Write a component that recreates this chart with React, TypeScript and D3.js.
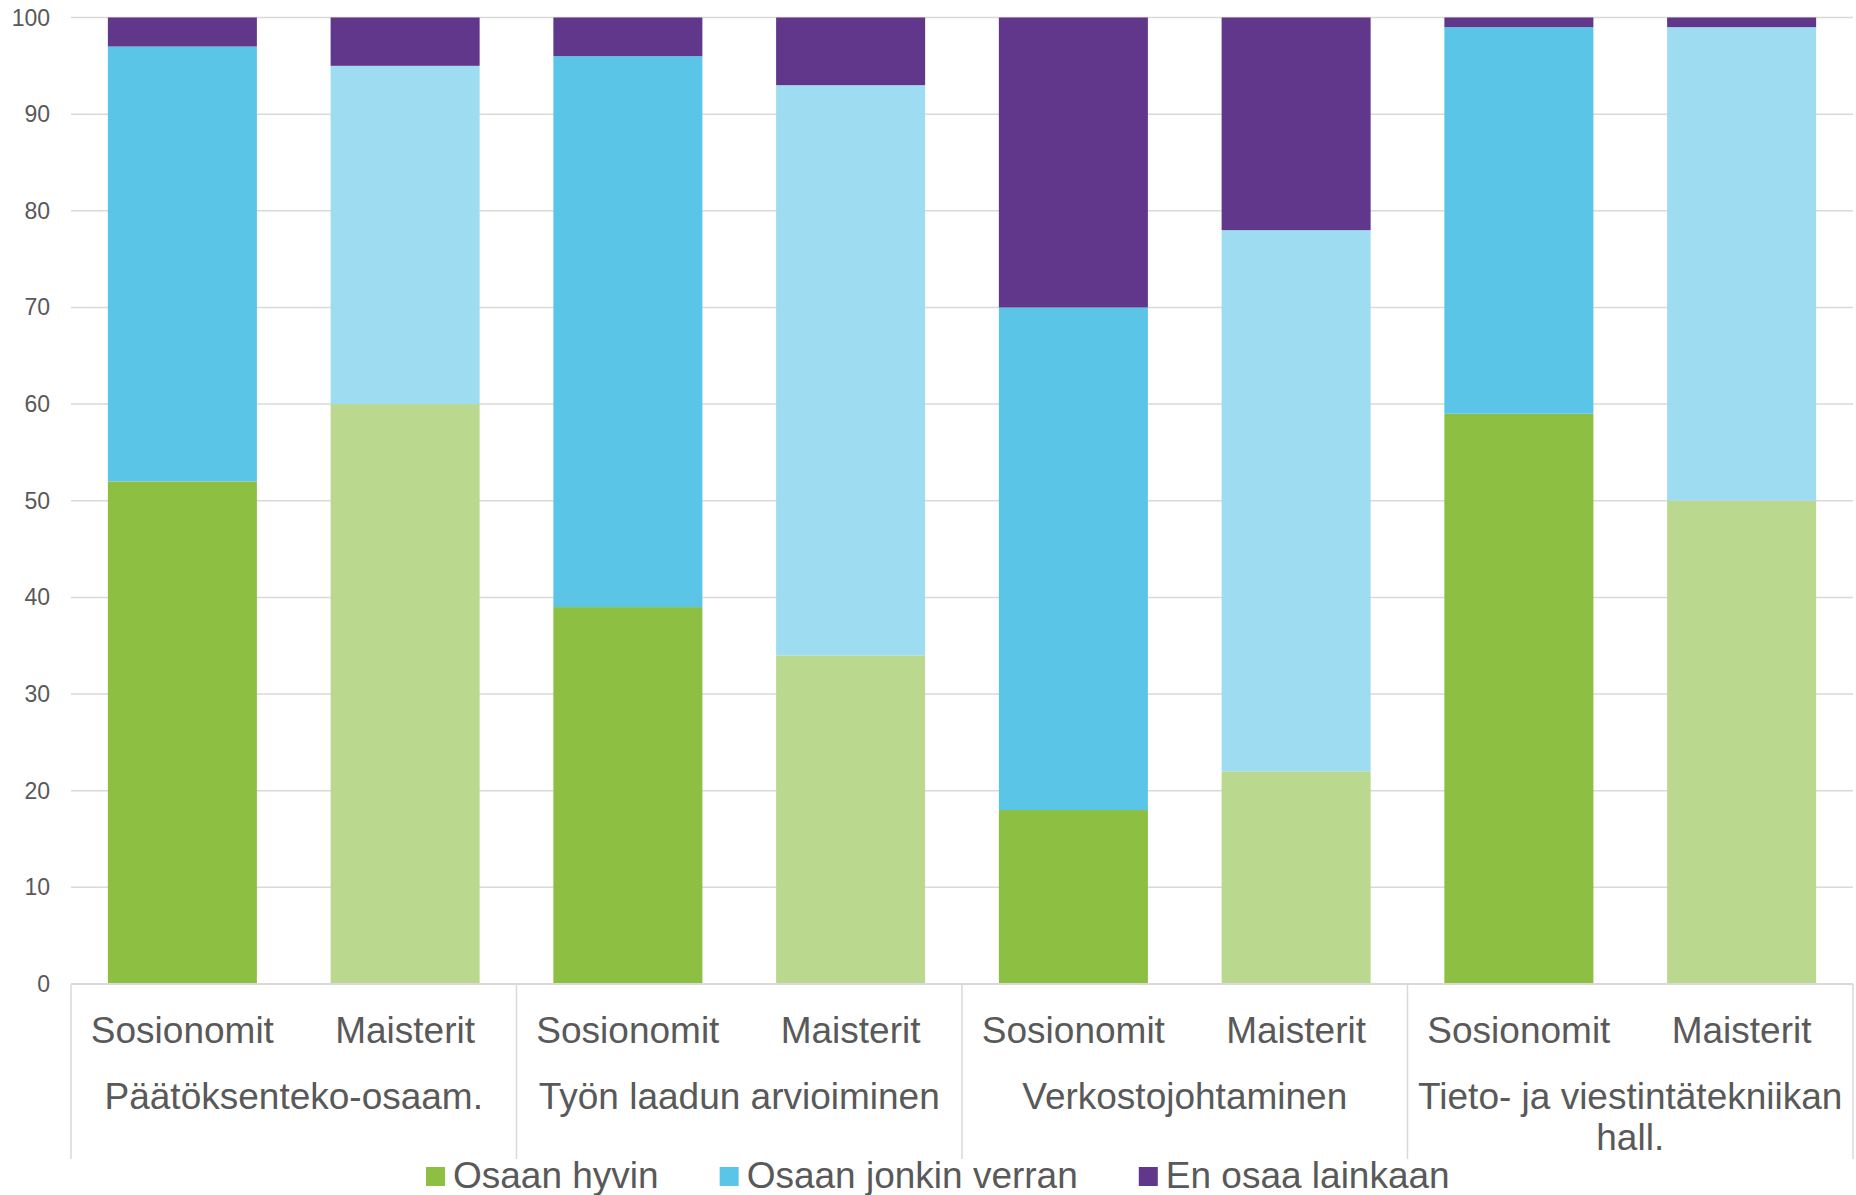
import React from "react";
import * as d3 from "d3";

const groups = [
  "Päätöksenteko-osaam.",
  "Työn laadun arvioiminen",
  "Verkostojohtaminen",
  "Tieto- ja viestintätekniikan hall.",
];
const groupLines = [
  ["Päätöksenteko-osaam."],
  ["Työn laadun arvioiminen"],
  ["Verkostojohtaminen"],
  ["Tieto- ja viestintätekniikan", "hall."],
];
const subgroups = ["Sosionomit", "Maisterit"];
const seriesNames = ["Osaan hyvin", "Osaan jonkin verran", "En osaa lainkaan"];

const osaanHyvin = [52, 60, 39, 34, 18, 22, 59, 50];
const osaanJonkin = [45, 35, 57, 59, 52, 56, 40, 49];
const enOsaa = [3, 5, 4, 7, 30, 22, 1, 1];

const yTicks = [0, 10, 20, 30, 40, 50, 60, 70, 80, 90, 100];

const darkColors = ["#8CBF42", "#5BC5E8", "#61378C"];
const lightColors = ["#BBD88F", "#9EDDF1", "#61378C"];

const W = 1856;
const H = 1195;
const left = 71;
const right = 1853;
const top = 17.5;
const bottom = 984;
const FONT = "'Liberation Sans', Arial, sans-serif";
const TEXT = "#595959";
const GRID = "#D9D9D9";

function measure(text: string, size: number) {
  const c = document.createElement("canvas").getContext("2d");
  if (!c) return text.length * size * 0.5;
  c.font = `${size}px 'Liberation Sans', Arial, sans-serif`;
  return c.measureText(text).width;
}

export default function App() {
  const rows = groups.flatMap((g, gi) =>
    subgroups.map((s, si) => {
      const i = gi * 2 + si;
      return {
        group: g,
        sub: s,
        a: osaanHyvin[i],
        b: osaanJonkin[i],
        c: enOsaa[i],
      };
    })
  );
  const stack = d3.stack<any>().keys(["a", "b", "c"]);
  const stacked = stack(rows);

  const x0 = d3.scaleBand<string>().domain(groups).range([left, right]).padding(0);
  const x1 = d3
    .scaleBand<string>()
    .domain(subgroups)
    .range([0, x0.bandwidth()])
    .paddingInner(0.331)
    .paddingOuter(0.1655);
  const y = d3.scaleLinear().domain([0, 100]).range([bottom, top]);

  // legend layout
  const legendSize = 37;
  let lx = 426;
  const legendItems = seriesNames.map((name, i) => {
    const item = { name, x: lx, color: darkColors[i] };
    lx += 19 + 8 + measure(name, legendSize) + 61;
    return item;
  });

  return (
    <svg
      width={W}
      height={H}
      style={{ position: "absolute", left: 0, top: 0, background: "#fff" }}
      fontFamily={FONT}
    >
      <rect x={0} y={0} width={W} height={H} fill="#fff" />
      {/* gridlines */}
      {yTicks.map((t) =>
        t === 0 ? null : (
          <line key={t} x1={left} x2={right} y1={y(t)} y2={y(t)} stroke={GRID} strokeWidth={1.5} />
        )
      )}
      {/* y tick labels */}
      {yTicks.map((t) => (
        <text
          key={"yl" + t}
          x={50}
          y={y(t) + 8}
          textAnchor="end"
          fontSize={23}
          fill={TEXT}
        >
          {t}
        </text>
      ))}
      {/* bars */}
      {stacked.map((layer, li) =>
        layer.map((d, di) => {
          const row = rows[di];
          const bx = (x0(row.group) as number) + (x1(row.sub) as number);
          const col = row.sub === "Sosionomit" ? darkColors[li] : lightColors[li];
          return (
            <rect
              key={li + "-" + di}
              x={bx}
              y={y(d[1])}
              width={x1.bandwidth()}
              height={y(d[0]) - y(d[1])}
              fill={col}
            />
          );
        })
      )}
      {/* bottom axis */}
      <line x1={left} x2={right} y1={bottom} y2={bottom} stroke={GRID} strokeWidth={2} />
      {[...groups.map((g) => x0(g) as number), right].map((xx, i) => (
        <line key={"div" + i} x1={xx} x2={xx} y1={bottom} y2={1159} stroke={GRID} strokeWidth={1.5} />
      ))}
      {/* subgroup labels */}
      {rows.map((row, i) => (
        <text
          key={"sl" + i}
          x={(x0(row.group) as number) + (x1(row.sub) as number) + x1.bandwidth() / 2}
          y={1042.5}
          textAnchor="middle"
          fontSize={37}
          fill={TEXT}
        >
          {row.sub}
        </text>
      ))}
      {/* group labels */}
      {groups.map((g, gi) =>
        groupLines[gi].map((line, li) => (
          <text
            key={"gl" + gi + "-" + li}
            x={(x0(g) as number) + x0.bandwidth() / 2}
            y={1108.5 + li * 41.5}
            textAnchor="middle"
            fontSize={37}
            fill={TEXT}
          >
            {line}
          </text>
        ))
      )}
      {/* legend */}
      {legendItems.map((it, i) => (
        <g key={"lg" + i}>
          <rect x={it.x} y={1167} width={19} height={19} fill={it.color} />
          <text x={it.x + 27} y={1188} fontSize={legendSize} fill={TEXT}>
            {it.name}
          </text>
        </g>
      ))}
    </svg>
  );
}
